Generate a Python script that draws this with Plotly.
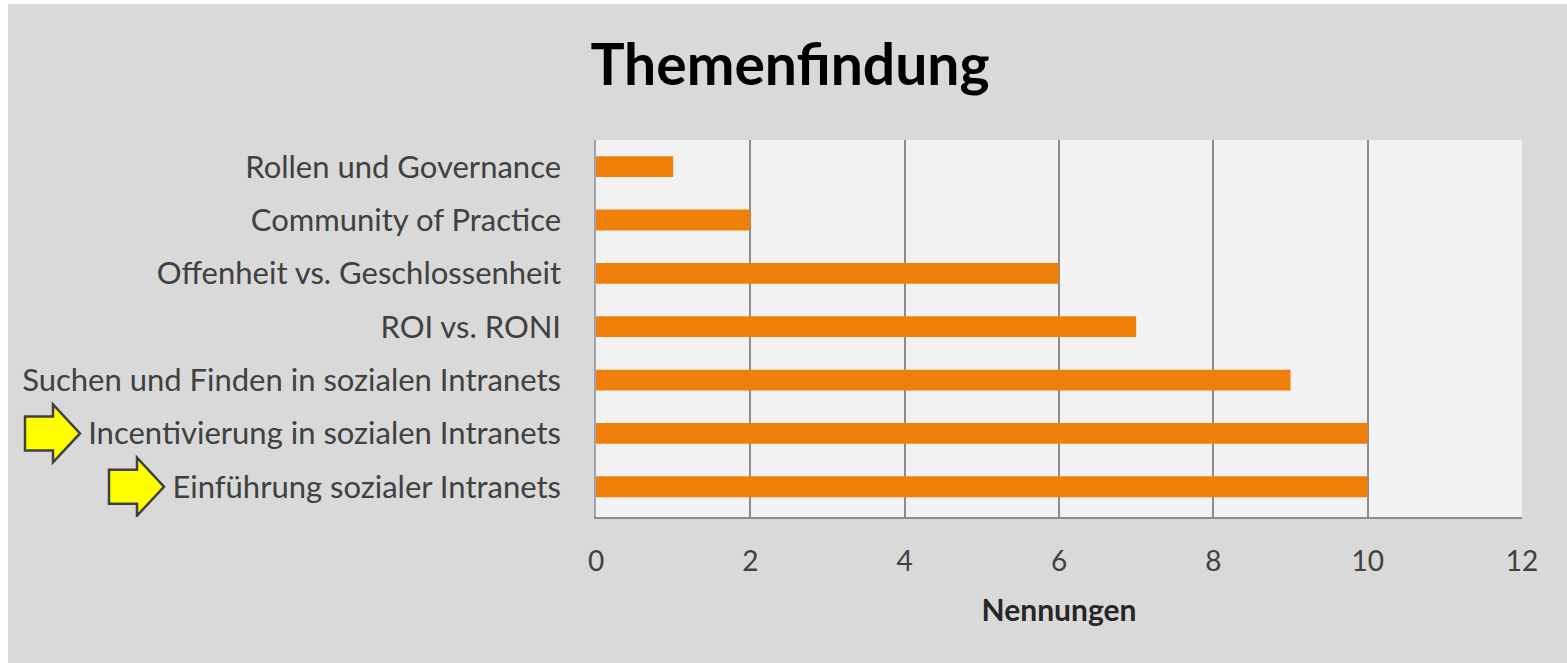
import plotly.graph_objects as go

categories = [
    "Rollen und Governance",
    "Community of Practice",
    "Offenheit vs. Geschlossenheit",
    "ROI vs. RONI",
    "Suchen und Finden in sozialen Intranets",
    "Incentivierung in sozialen Intranets",
    "Einführung sozialer Intranets",
]
nennungen = [1, 2, 6, 7, 9, 10, 10]
x_ticks = [0, 2, 4, 6, 8, 10, 12]
highlighted = ["Incentivierung in sozialen Intranets", "Einführung sozialer Intranets"]

W, H = 1567, 663
ML, MR, MT, MB = 596, 45, 140, 146
PW = W - ML - MR
PH = H - MT - MB

fig = go.Figure(
    go.Bar(
        x=nennungen,
        y=categories,
        orientation="h",
        marker=dict(color="#f07f09", line=dict(width=0)),
        width=0.39,
    )
)

# yellow arrows next to highlighted categories (pixel-sized shapes anchored to category)
arrow_tips = {highlighted[0]: 80, highlighted[1]: 164}
shapes = []
for cat, tip_px in arrow_tips.items():
    t = tip_px - ML
    hl, aw, hh, sh = 27, 55, 29, 17
    path = (
        f"M{t-aw},{-sh} L{t-hl},{-sh} L{t-hl},{-hh} L{t},0 "
        f"L{t-hl},{hh} L{t-hl},{sh} L{t-aw},{sh} Z"
    )
    shapes.append(dict(
        type="path", xref="paper", yref="y",
        xsizemode="pixel", ysizemode="pixel",
        xanchor=0, yanchor=categories.index(cat),
        path=path, fillcolor="#ffff00",
        line=dict(color="#404040", width=2.5),
        layer="above",
    ))

# thin white frame at top/left edge of image
def px_x(px):
    return (px - ML) / PW

def px_y(py):
    return (H - MB - py) / PH

shapes.append(dict(type="rect", xref="paper", yref="paper",
                   x0=px_x(-2), x1=px_x(W + 2), y0=px_y(4), y1=px_y(-2),
                   fillcolor="white", line=dict(width=0), layer="below"))
shapes.append(dict(type="rect", xref="paper", yref="paper",
                   x0=px_x(-2), x1=px_x(8), y0=px_y(H + 2), y1=px_y(-2),
                   fillcolor="white", line=dict(width=0), layer="below"))

fig.update_layout(
    width=W, height=H,
    margin=dict(l=ML, r=MR, t=MT, b=MB, pad=0),
    paper_bgcolor="#d9d9d9",
    plot_bgcolor="#f2f2f2",
    showlegend=False,
    bargap=0.61,
    shapes=shapes,
    title=dict(
        text="<b>Themenfindung</b>",
        font=dict(family="Lato", size=57, color="#000000"),
        x=790 / W, xanchor="center",
        y=1 - 65 / H, yanchor="middle", yref="container",
    ),
    font=dict(family="Lato", color="#404040"),
)

fig.update_xaxes(
    range=[0, 12],
    tickvals=x_ticks,
    ticktext=[str(v) for v in x_ticks],
    tickfont=dict(size=28, color="#404040"),
    showgrid=True, gridcolor="#8c8c8c", gridwidth=1.5,
    showline=True, linecolor="#8c8c8c", linewidth=1.5,
    zeroline=False,
    ticks="", ticklabelstandoff=19,
    title=dict(text="<b>Nennungen</b>", font=dict(size=30, color="#262626"), standoff=24),
    fixedrange=True,
)
fig.update_yaxes(
    categoryorder="array", categoryarray=categories,
    autorange="reversed",
    tickfont=dict(size=31, color="#404040"),
    showgrid=False,
    showline=True, linecolor="#9aa4b0", linewidth=1.5,
    ticks="", ticklabelstandoff=27,
    fixedrange=True,
)

fig.write_html(
    "out.html",
    config={"displayModeBar": False},
    post_script="document.body.style.margin='0';document.body.style.overflow='hidden';",
)
